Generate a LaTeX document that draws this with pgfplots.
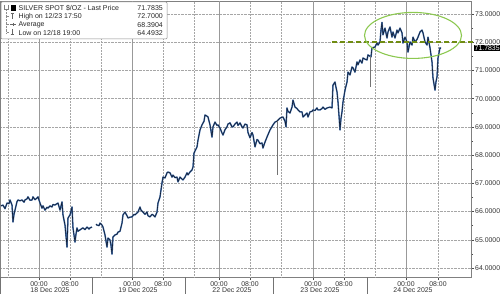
\documentclass[border=0pt]{standalone}
\usepackage{pgfplots}
\pgfplotsset{compat=1.18}
\usepackage{pgfplotstable}
\usepackage{fontspec}
\setmainfont{Liberation Sans}
\definecolor{lineblue}{RGB}{66,110,170}
\definecolor{linedark}{RGB}{18,30,52}
\definecolor{olivedash}{RGB}{112,140,18}
\definecolor{ellgreen}{RGB}{140,200,80}
\pgfplotstableread{
x y
1 66.20
3 66.23
5 66.10
7 66.30
9 66.28
10 66.41
12 66.23
13 65.63
14 65.90
15 66.05
17 66.35
18 66.41
20 66.38
22 66.41
24 66.33
25 66.41
27 66.45
28 66.52
30 66.40
32 66.41
33 66.52
35 66.42
37 66.48
38 66.52
40 66.30
42 66.12
43 66.20
45 66.05
47 66.15
48 66.12
50 66.20
52 66.16
53 66.25
55 66.23
57 66.28
58 66.30
60 66.05
62 66.34
63 65.88
65 65.52
67 64.74
68 65.77
70 65.88
72 66.16
73 65.42
75 64.92
76 65.20
77 65.42
78 65.30
80 65.35
82 65.40
83 65.42
85 65.36
87 65.45
89 65.38
90 65.42
92 65.45
94 nan
96 65.55
97 65.52
99 65.50
100 65.59
102 65.52
103 65.45
105 65.17
107 64.74
108 65.06
110 64.99
111 64.80
112 64.49
113 65.10
115 65.17
117 65.20
118 65.27
120 65.30
122 65.59
123 65.88
125 65.98
127 65.85
128 65.77
130 65.80
132 65.81
134 65.90
135 65.88
137 65.95
138 65.98
140 66.16
141 66.05
143 65.98
145 65.90
147 65.98
148 65.85
150 65.81
152 65.90
153 65.88
155 65.81
157 65.98
158 66.30
160 66.52
162 67.01
163 67.22
165 67.19
167 67.37
168 67.40
170 67.37
172 67.22
173 67.29
175 67.20
177 67.22
178 67.05
180 67.22
182 67.15
183 67.12
185 67.22
187 67.37
188 67.30
190 67.40
192 67.47
193 67.58
194 68.07
197 68.29
198 68.53
200 68.89
202 69.07
204 69.20
205 69.42
207 69.38
208 69.35
210 69.07
212 68.64
213 69.00
215 69.17
217 69.05
218 69.07
220 68.96
222 68.78
223 68.71
225 68.90
227 69.00
228 69.10
230 69.14
232 69.00
233 69.00
235 69.10
237 69.17
238 69.05
240 69.14
242 69.00
243 68.96
245 69.10
247 69.07
248 68.80
250 68.61
252 68.80
253 68.71
255 68.29
257 68.55
258 68.53
260 68.40
262 68.43
263 68.25
265 68.46
267 68.64
270 68.89
273 69.07
275 69.17
277 69.20
278 69.24
280 69.31
283 69.35
285 69.20
286 69.00
287 69.67
288 69.55
290 69.49
292 69.70
293 69.95
295 69.70
297 69.65
298 69.60
300 69.53
302 69.53
303 69.35
305 69.42
307 69.49
308 69.35
310 69.53
312 69.55
313 69.60
315 69.58
317 69.67
318 69.60
320 69.60
322 69.65
323 69.70
325 69.62
327 69.67
330 69.70
332 69.67
333 70.48
335 70.59
336 70.40
337 70.24
338 69.88
339 69.40
340 68.89
341 69.30
342 69.53
343 69.88
345 70.30
347 70.59
348 70.94
350 70.84
352 71.12
353 71.09
355 70.94
357 71.30
358 71.20
360 71.37
362 71.26
363 71.44
365 71.40
367 71.37
368 71.55
370 71.50
371 71.48
372 71.80
375 71.83
377 71.97
378 71.90
380 72.01
381 72.43
382 72.70
383 72.26
385 72.50
387 72.15
388 72.36
390 72.54
392 72.18
393 72.36
395 72.15
397 72.43
398 72.33
400 72.50
402 72.33
403 71.97
405 72.18
407 72.01
408 71.65
410 72.01
412 71.90
413 72.18
415 72.01
417 72.10
418 72.18
420 72.36
422 72.43
423 72.33
425 72.01
427 71.90
428 72.18
430 71.80
432 71.30
433 70.73
435 70.30
436 70.60
437 70.77
438 71.44
440 71.80
441 71.78
}\silver
\begin{document}
\begin{tikzpicture}
\useasboundingbox (0pt,0pt) rectangle (500pt,-294pt);
\begin{axis}[
  at={(0pt,-277pt)}, anchor=south west,
  scale only axis, width=471pt, height=276pt,
  xmin=0, xmax=471, ymin=63.68, ymax=73.46,
  clip=false,
  unbounded coords=jump,
  axis line style={draw=black!50, line width=0.5pt},
  tick style={black!70, line width=0.5pt},
  tick align=outside,
  major tick length=3pt, minor tick length=2pt,
  ytick={64,65,66,67,68,69,70,71,72,73},
  yticklabels={64.0000,65.0000,66.0000,67.0000,68.0000,69.0000,70.0000,71.0000,72.0000,73.0000},
  minor y tick num=1,
  ytick pos=right, yticklabel pos=right,
  yticklabel style={font=\fontsize{6.9}{8}\selectfont, inner sep=1pt, text=black!80},
  xtick={39,70,132,163,219,250,313,344,406,438},
  xticklabels={00:00,08:00,00:00,08:00,00:00,08:00,00:00,08:00,00:00,08:00},
  xtick pos=left,
  xticklabel style={font=\fontsize{6.9}{8}\selectfont, inner sep=1pt, text=black!80},
  extra x ticks={0.5,92,185,273,367},
  extra x tick labels={},
  extra x tick style={major tick length=17pt, tick style={black!55}},
  ymajorgrids=true,
  grid style={densely dotted, black!35, line width=0.5pt},
]
\pgfplotsinvokeforeach{8,70,101,163,194,250,281,344,375,438}{
  \draw[densely dotted, black!35, line width=0.5pt] (axis cs:#1,63.68) -- (axis cs:#1,73.46);
}
\pgfplotsinvokeforeach{39,132,219,313,406}{
  \draw[black!40, line width=0.6pt] (axis cs:#1,63.68) -- (axis cs:#1,73.46);
}
\addplot[lineblue, line width=1.5pt, line join=round] table[x=x,y=y] {\silver};
\addplot[linedark, line width=0.6pt, line join=round] table[x=x,y=y] {\silver};
\addplot[black!55, line width=0.8pt] coordinates {(277,69.22) (277,67.29)};
\addplot[black!55, line width=0.8pt] coordinates {(370,71.52) (370,70.41)};
\draw[olivedash, line width=1.5pt, dash pattern=on 5pt off 3pt] (axis cs:332,72) -- (axis cs:474,72);
\draw[ellgreen, line width=1.1pt] (axis cs:413,72.24) ellipse [x radius=48.5pt, y radius=23pt];
\end{axis}
% last price tag
\node[fill=black, text=white, inner sep=1pt, anchor=west, font=\fontsize{6.9}{8}\selectfont] at (473.5pt,-48pt) {71.7835};
% date labels
\begin{scope}[every node/.style={font=\fontsize{6.9}{8}\selectfont, text=black!80, inner sep=0pt}]
\node at (50pt,-290pt) {18 Dec 2025};
\node at (138pt,-290pt) {19 Dec 2025};
\node at (232pt,-290pt) {22 Dec 2025};
\node at (320pt,-290pt) {23 Dec 2025};
\node at (413pt,-290pt) {24 Dec 2025};
\end{scope}
% legend box
\draw[black!45, fill=white, rounded corners=1pt, line width=0.5pt] (1pt,-2pt) rectangle (167pt,-39pt);
\draw[black!45, densely dotted, line width=0.4pt] (6.5pt,-9pt) -- (6.5pt,-33pt);
\draw[black!45, line width=0.4pt] (6.5pt,-16.5pt) -- (9pt,-16.5pt) (6.5pt,-24.5pt) -- (9pt,-24.5pt) (6.5pt,-32.5pt) -- (9pt,-32.5pt);
\draw[black!50, line width=0.4pt] (4.5pt,-5pt) -- (4.5pt,-9pt) -- (8.5pt,-9pt) -- (8.5pt,-5pt);
\fill[black] (10.5pt,-5.5pt) rectangle (16pt,-11pt);
\draw[black!60, line width=0.5pt] (10.5pt,-13.5pt) -- (14pt,-13.5pt) (12.25pt,-13.5pt) -- (12.25pt,-19pt);
\draw[black!60, line width=0.5pt] (10pt,-24.5pt) -- (16pt,-24.5pt) (13pt,-23pt) -- (13pt,-26pt);
\draw[black!60, line width=0.5pt] (12.25pt,-29.5pt) -- (12.25pt,-34.5pt) (10.5pt,-34.5pt) -- (14pt,-34.5pt);
\begin{scope}[every node/.style={font=\fontsize{7}{8}\selectfont, text=black!85, inner sep=0pt}]
\node[anchor=west] at (18.5pt,-8.3pt) {SILVER SPOT \$/OZ - Last Price};
\node[anchor=east] at (163pt,-8.3pt) {71.7835};
\node[anchor=west] at (18.5pt,-16.5pt) {High on 12/23 17:50};
\node[anchor=east] at (163pt,-16.5pt) {72.7000};
\node[anchor=west] at (18.5pt,-24.8pt) {Average};
\node[anchor=east] at (163pt,-24.8pt) {68.3904};
\node[anchor=west] at (18.5pt,-33pt) {Low on 12/18 19:00};
\node[anchor=east] at (163pt,-33pt) {64.4932};
\end{scope}
\end{tikzpicture}
\end{document}
